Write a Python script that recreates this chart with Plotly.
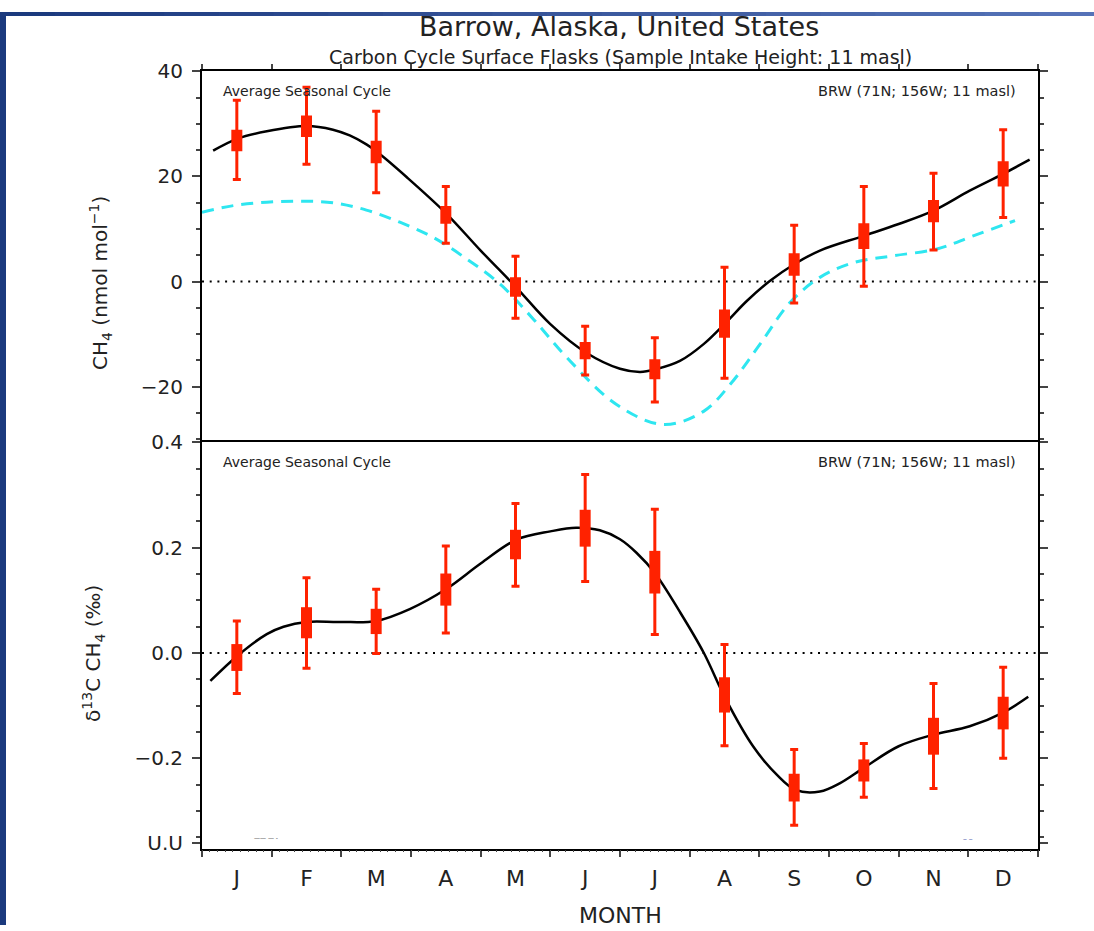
import numpy as np
import plotly.graph_objects as go

# ---------------- data ----------------
months = ["J", "F", "M", "A", "M", "J", "J", "A", "S", "O", "N", "D"]
month_x = [i + 0.5 for i in range(12)]

# CH4 seasonal cycle (nmol/mol)
ch4_mean = [26.8, 29.6, 24.7, 12.7, -1.1, -13.1, -16.7, -8.0, 3.3, 8.6, 13.4, 20.5]
ch4_box_lo = [24.8, 27.5, 22.5, 11.0, -2.9, -14.8, -18.6, -10.7, 1.1, 6.2, 11.3, 18.1]
ch4_box_hi = [28.9, 31.6, 26.8, 14.4, 0.8, -11.5, -14.8, -5.3, 5.4, 11.1, 15.5, 22.9]
ch4_err_lo = [19.4, 22.3, 16.9, 7.3, -7.0, -17.8, -22.9, -18.4, -4.1, -0.9, 6.0, 12.2]
ch4_err_hi = [34.5, 37.0, 32.4, 18.1, 4.8, -8.5, -10.7, 2.7, 10.7, 18.1, 20.6, 28.9]

ch4_fit_x = [0.16, 0.51, 0.93, 1.5, 1.88, 2.12, 2.36, 2.52, 2.94, 3.51, 4.0, 4.51, 5.0, 5.51, 6.0,
             6.29, 6.51, 6.86, 7.2, 7.52, 7.82, 8.15, 8.5, 8.87, 9.5, 10.0, 10.5, 11.02, 11.5, 11.88]
ch4_fit_y = [24.9, 27.2, 28.6, 29.6, 28.9, 27.8, 26.1, 24.6, 19.85, 12.9, 5.9, -1.1, -8.1, -13.5, -16.6,
             -17.2, -16.7, -15.1, -11.9, -7.8, -3.7, 0.1, 3.3, 5.9, 8.7, 10.95, 13.5, 17.3, 20.5, 23.2]

ch4_alt_x = [0.0, 0.45, 0.93, 1.41, 1.88, 2.36, 2.84, 3.32, 3.8, 4.28, 4.76, 5.24, 5.95, 6.62,
             7.2, 7.58, 8.01, 8.44, 8.87, 9.35, 9.92, 10.55, 11.07, 11.67]
ch4_alt_y = [13.2, 14.45, 15.1, 15.3, 15.0, 13.6, 11.3, 8.4, 4.3, -0.5, -7.2, -14.5, -23.4, -27.2,
             -24.7, -19.6, -11.9, -4.0, 0.8, 3.6, 4.9, 6.2, 8.7, 11.6]

# d13C-CH4 seasonal cycle (permil)
d13_mean = [-0.008, 0.058, 0.06, 0.12, 0.206, 0.237, 0.153, -0.08, -0.256, -0.223, -0.158, -0.114]
d13_box_lo = [-0.034, 0.028, 0.036, 0.09, 0.178, 0.202, 0.113, -0.113, -0.282, -0.244, -0.193, -0.145]
d13_box_hi = [0.017, 0.087, 0.084, 0.151, 0.234, 0.272, 0.194, -0.046, -0.229, -0.202, -0.123, -0.083]
d13_err_lo = [-0.077, -0.029, -0.001, 0.038, 0.127, 0.136, 0.035, -0.176, -0.327, -0.274, -0.257, -0.2]
d13_err_hi = [0.061, 0.143, 0.121, 0.203, 0.284, 0.339, 0.273, 0.016, -0.183, -0.172, -0.058, -0.027]

d13_fit_x = [0.12, 0.51, 0.93, 1.17, 1.5, 1.98, 2.5, 2.99, 3.51, 4.0, 4.51, 5.0, 5.37, 5.71, 6.0,
             6.24, 6.5, 6.86, 7.2, 7.52, 7.91, 8.25, 8.52, 8.87, 9.16, 9.5, 10.0, 10.5, 11.02, 11.5, 11.86]
d13_fit_y = [-0.053, -0.005, 0.036, 0.05, 0.059, 0.059, 0.061, 0.084, 0.122, 0.17, 0.215, 0.231, 0.238,
             0.233, 0.216, 0.19, 0.152, 0.078, 0.001, -0.088, -0.177, -0.231, -0.26, -0.263, -0.247,
             -0.218, -0.177, -0.155, -0.139, -0.113, -0.083]

ch4_ticks = [-20, 0, 20, 40]
ch4_ticktext = ["\u221220", "0", "20", "40"]
d13_ticks = [-0.361, -0.2, 0.0, 0.2, 0.4]
d13_ticktext = ["U.U", "\u22120.2", "0.0", "0.2", "0.4"]

# ---------------- layout geometry ----------------
W, H = 1094, 931
OFF, S = 11.8, 0.978   # vertical placement compensation of the photographed page


def px_x(p):
    return p / W


def px_y(p):
    return 1 - ((p - OFF) / S) / H


X0, X1 = px_x(202), px_x(1038)
TOP_DOM = [px_y(441), px_y(71)]
BOT_DOM = [px_y(847), px_y(441)]

RED = "#ff2200"
FONT = "DejaVu Sans"

fig = go.Figure()


def add_panel(xa, ya, fit_x, fit_y, mean, blo, bhi, elo, ehi):
    fig.add_trace(go.Scatter(x=fit_x, y=fit_y, mode="lines", line=dict(color="black", width=2.5, shape="spline"),
                             xaxis=xa, yaxis=ya, showlegend=False, hoverinfo="skip"))
    m = np.array(mean)
    fig.add_trace(go.Scatter(
        x=month_x, y=mean, mode="markers", marker=dict(color="rgba(0,0,0,0)", size=1),
        error_y=dict(type="data", symmetric=False, array=list(np.array(ehi) - m),
                     arrayminus=list(m - np.array(elo)), color=RED, thickness=3, width=4),
        xaxis=xa, yaxis=ya, showlegend=False))
    fig.add_trace(go.Scatter(
        x=month_x, y=mean, mode="markers", marker=dict(color="rgba(0,0,0,0)", size=1),
        error_y=dict(type="data", symmetric=False, array=list(np.array(bhi) - m),
                     arrayminus=list(m - np.array(blo)), color=RED, thickness=11, width=0),
        xaxis=xa, yaxis=ya, showlegend=False))


fig.add_trace(go.Scatter(x=ch4_alt_x, y=ch4_alt_y, mode="lines",
                         line=dict(color="#2ee6f0", width=3, dash="12px,8px", shape="spline"),
                         xaxis="x", yaxis="y", showlegend=False, hoverinfo="skip"))
add_panel("x", "y", ch4_fit_x, ch4_fit_y, ch4_mean, ch4_box_lo, ch4_box_hi, ch4_err_lo, ch4_err_hi)
add_panel("x2", "y2", d13_fit_x, d13_fit_y, d13_mean, d13_box_lo, d13_box_hi, d13_err_lo, d13_err_hi)
fig.add_trace(go.Scatter(x=[None], y=[None], xaxis="x3", yaxis="y2", showlegend=False, hoverinfo="skip"))

tickfont = dict(family=FONT, size=20, color="#222")
common_line = dict(showline=True, linecolor="black", linewidth=2, showgrid=False, zeroline=False)

fig.update_layout(
    width=W, height=H, autosize=False,
    margin=dict(l=0, r=0, t=0, b=0, pad=0),
    paper_bgcolor="white", plot_bgcolor="white",
    xaxis=dict(domain=[X0, X1], anchor="y", range=[0, 12], side="top",
               tickmode="array", tickvals=list(range(13)), ticks="outside", ticklen=5, tickwidth=2,
               showticklabels=False, mirror=False, **common_line),
    yaxis=dict(domain=TOP_DOM, anchor="x", range=[-30.6, 40],
               tickmode="array", tickvals=ch4_ticks, ticktext=ch4_ticktext,
               ticks="outside", ticklen=8, tickwidth=2, tickfont=tickfont, ticklabelstandoff=5,
               minor=dict(dtick=5, tick0=0, ticks="outside", ticklen=4, tickwidth=1.5),
               mirror="ticks", **common_line),
    xaxis2=dict(domain=[X0, X1], anchor="y2", range=[0, 12],
                tickmode="array", tickvals=month_x, ticktext=months, ticks="",
                tickfont=dict(family=FONT, size=22, color="#222"), ticklabelstandoff=8,
                minor=dict(tickmode="array", tickvals=list(range(13)), ticks="outside", ticklen=6, tickwidth=2),
                mirror=True, **common_line),
    xaxis3=dict(domain=[X0, X1], anchor="y2", overlaying="x2", range=[0, 12], side="bottom",
                tickmode="linear", tick0=0, dtick=1 / 9, ticks="outside", ticklen=2, tickwidth=1,
                showticklabels=False, showline=False, showgrid=False, zeroline=False),
    yaxis2=dict(domain=BOT_DOM, anchor="x2", range=[-0.373, 0.4],
                tickmode="array", tickvals=d13_ticks, ticktext=d13_ticktext,
                ticks="outside", ticklen=8, tickwidth=2, tickfont=tickfont, ticklabelstandoff=5,
                minor=dict(dtick=0.05, tick0=0, ticks="outside", ticklen=4, tickwidth=1.5),
                mirror="ticks", **common_line),
)

shapes = []
for ya in ["y", "y2"]:
    shapes.append(dict(type="line", xref="x" if ya == "y" else "x2", yref=ya, x0=0, x1=12, y0=0, y1=0,
                       line=dict(color="black", width=2, dash="2px,5.7px"), layer="below"))
shapes.append(dict(type="rect", xref="paper", yref="paper", x0=0, x1=px_x(6), y0=0, y1=1,
                   fillcolor="#1b3a7e", line=dict(width=0), layer="above"))
c0 = np.array([0x1b, 0x3a, 0x7e]); c1 = np.array([0x55, 0x72, 0xb8])
nseg = 20
for i in range(nseg):
    c = (c0 + (c1 - c0) * i / (nseg - 1)).astype(int)
    shapes.append(dict(type="rect", xref="paper", yref="paper", x0=i / nseg, x1=(i + 1) / nseg + 0.002,
                       y0=1 - 4 / H, y1=1, fillcolor="rgb(%d,%d,%d)" % tuple(c), line=dict(width=0), layer="below"))
fig.update_layout(shapes=shapes)

ann = []
ann.append(dict(text="Barrow, Alaska, United States", x=px_x(619), y=px_y(26), xref="paper", yref="paper",
                showarrow=False, xanchor="center", yanchor="middle",
                font=dict(family=FONT, size=27, color="#222")))
ann.append(dict(text="Carbon Cycle Surface Flasks (Sample Intake Height: 11 masl)", x=px_x(620), y=px_y(57),
                xref="paper", yref="paper", showarrow=False, xanchor="center", yanchor="middle",
                font=dict(family=FONT, size=19, color="#222")))
for yc in [90.7, 460.7]:
    ann.append(dict(text="Average Seasonal Cycle", x=px_x(221), y=px_y(yc), xref="paper", yref="paper",
                    showarrow=False, xanchor="left", yanchor="middle", font=dict(family=FONT, size=14, color="#222")))
    ann.append(dict(text="BRW (71N; 156W; 11 masl)", x=px_x(1018), y=px_y(yc), xref="paper", yref="paper",
                    showarrow=False, xanchor="right", yanchor="middle", font=dict(family=FONT, size=14.5, color="#222")))
ann.append(dict(text="CH<sub>4</sub> (nmol mol<sup>\u22121</sup>)", x=px_x(101), y=px_y(282), xref="paper", yref="paper",
                showarrow=False, textangle=-90, xanchor="center", yanchor="middle",
                font=dict(family=FONT, size=20, color="#222")))
ann.append(dict(text="\u03b4<sup>13</sup>C CH<sub>4</sub> (\u2030)", x=px_x(94), y=px_y(652), xref="paper", yref="paper",
                showarrow=False, textangle=-90, xanchor="center", yanchor="middle",
                font=dict(family=FONT, size=20, color="#222")))
ann.append(dict(text="MONTH", x=px_x(620), y=px_y(913), xref="paper", yref="paper",
                showarrow=False, xanchor="center", yanchor="middle",
                font=dict(family=FONT, size=22, color="#222")))
ann.append(dict(text="\u2014\u2014 \u2014 -", x=px_x(266), y=px_y(835), xref="paper", yref="paper",
                showarrow=False, xanchor="center", yanchor="middle", font=dict(family=FONT, size=6, color="#444")))
ann.append(dict(text="\u2012 \u2012", x=px_x(968), y=px_y(836), xref="paper", yref="paper",
                showarrow=False, xanchor="center", yanchor="middle", font=dict(family=FONT, size=6, color="#223399")))
fig.update_layout(annotations=ann)

fig.write_html("out.html")
